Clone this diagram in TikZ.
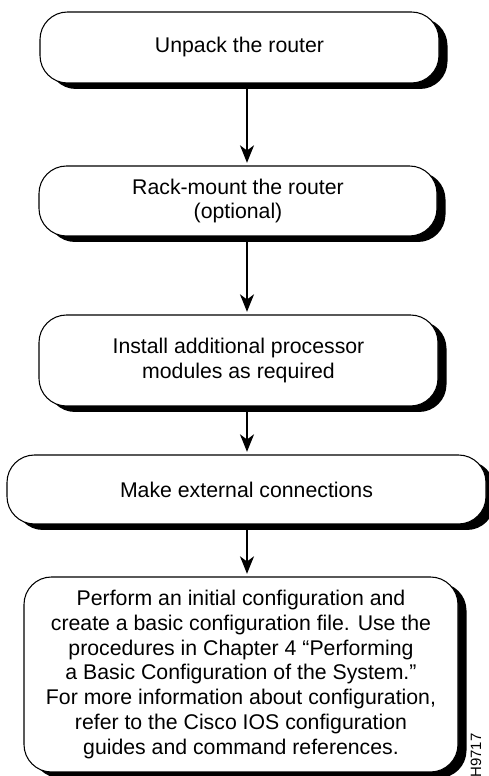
\documentclass[tikz,border=0pt]{standalone}
\usepackage{fontspec}
\setmainfont{Liberation Sans}
\usetikzlibrary{arrows.meta, shadows, positioning}

\begin{document}
\begin{tikzpicture}[
  tbox/.style ={rectangle, rounded corners=0.55cm,
                draw=black, line width=0.6pt, fill=white,
                drop shadow={shadow xshift=0.17cm, shadow yshift=-0.12cm,
                             fill=black, opacity=1},
                align=center, inner sep=0pt,
                font=\fontsize{12.1}{14.2}\selectfont},
  arr/.style  ={-{Stealth[length=10pt, width=8pt, inset=3pt]},
                line width=0.6pt, color=black, shorten >=1.5pt},
]
\useasboundingbox (0,0) rectangle (9.78,15.52);

%% ═══════════════ PASOS ═══════════════
\node[tbox, minimum width=7.98cm, minimum height=1.42cm] (S1) at (4.79, 14.57)
  {Unpack the router};
\node[tbox, minimum width=7.96cm, minimum height=1.40cm] (S2) at (4.76, 11.50)
  {Rack-mount the router\\(optional)};
\node[tbox, minimum width=7.98cm, minimum height=1.82cm] (S3) at (4.77, 8.31)
  {Install additional processor\\modules as required};
\node[tbox, minimum width=9.58cm, minimum height=1.38cm] (S4) at (4.93, 5.73)
  {Make external connections};
\node[tbox, minimum width=8.68cm, minimum height=3.90cm] (S5) at (4.82, 2.03)
  {Perform an initial configuration and\\
   create a basic configuration file. Use the\\
   procedures in Chapter 4 “Performing\\
   a Basic Configuration of the System.”\\
   For more information about configuration,\\
   refer to the Cisco IOS configuration\\
   guides and command references.};

%% ═══ Flechas ═══
\coordinate (AX) at (4.94, 0);
\draw[arr] (S1.south -| AX) -- (S2.north -| AX);
\draw[arr] (S2.south -| AX) -- (S3.north -| AX);
\draw[arr] (S3.south -| AX) -- (S4.north -| AX);
\draw[arr] (S4.south -| AX) -- (S5.north -| AX);

%% Etiqueta figura
\node[rotate=90, font=\fontsize{8.5}{8.5}\selectfont] (FIG) at (9.52, 0.41) {H9717};

\end{tikzpicture}
\end{document}
